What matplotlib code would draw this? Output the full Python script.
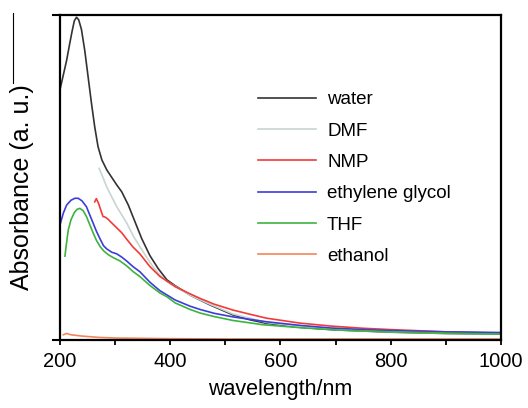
import matplotlib.pyplot as plt
from matplotlib.lines import Line2D
from matplotlib.ticker import MultipleLocator, NullFormatter

plt.rcParams['font.family'] = ['Liberation Sans', 'DejaVu Sans']

# UV-vis absorbance spectra (normalised units) in different solvents
water_nm = [200, 206, 212, 218, 222, 226, 230, 234, 239, 245, 251, 257, 263, 269,
            276, 285, 294, 303, 312, 324, 336, 348, 363, 378, 394, 409, 436, 472,
            514, 545, 575, 635, 700, 800, 900, 1000]
water_abs = [0.77, 0.815, 0.86, 0.915, 0.95, 0.982, 0.993, 0.985, 0.955, 0.89,
             0.81, 0.73, 0.656, 0.595, 0.554, 0.523, 0.50, 0.477, 0.456, 0.415,
             0.364, 0.313, 0.26, 0.22, 0.185, 0.167, 0.138, 0.108, 0.077, 0.062,
             0.051, 0.039, 0.031, 0.024, 0.02, 0.019]

dmf_nm = [271, 278, 285, 294, 303, 312, 321, 333, 345, 357, 369, 381, 394, 409,
          436, 472, 514, 575, 635, 700, 800, 900, 1000]
dmf_abs = [0.528, 0.50, 0.47, 0.44, 0.41, 0.385, 0.36, 0.32, 0.287, 0.255, 0.225,
           0.20, 0.18, 0.165, 0.138, 0.11, 0.08, 0.054, 0.041, 0.032, 0.025, 0.021,
           0.02]

nmp_nm = [263, 266, 270, 274, 278, 282, 287, 291, 297, 303, 312, 321, 333, 345,
          363, 381, 409, 436, 454, 480, 514, 545, 575, 635, 690, 750, 800, 900, 1000]
nmp_abs = [0.425, 0.435, 0.42, 0.40, 0.38, 0.378, 0.372, 0.365, 0.355, 0.345, 0.33,
           0.31, 0.285, 0.265, 0.226, 0.196, 0.164, 0.142, 0.128, 0.11, 0.092,
           0.079, 0.067, 0.052, 0.043, 0.036, 0.032, 0.025, 0.021]

eg_nm = [200, 206, 212, 220, 227, 233, 240, 248, 254, 260, 266, 273, 279, 285, 294,
         303, 312, 321, 333, 345, 363, 381, 409, 436, 454, 480, 514, 575, 635, 690,
         750, 800, 900, 1000]
eg_abs = [0.354, 0.39, 0.415, 0.43, 0.436, 0.436, 0.428, 0.41, 0.385, 0.36, 0.335,
          0.31, 0.29, 0.28, 0.27, 0.265, 0.255, 0.243, 0.225, 0.21, 0.178, 0.152,
          0.123, 0.104, 0.094, 0.082, 0.071, 0.056, 0.045, 0.037, 0.032, 0.029,
          0.025, 0.023]

thf_nm = [209, 212, 215, 220, 226, 231, 236, 242, 248, 254, 260, 266, 273, 280, 288,
          297, 309, 321, 333, 345, 363, 381, 394, 409, 436, 454, 480, 514, 568, 635,
          700, 800, 900, 1000]
thf_abs = [0.258, 0.30, 0.338, 0.37, 0.392, 0.402, 0.405, 0.398, 0.38, 0.355, 0.33,
           0.307, 0.287, 0.273, 0.262, 0.253, 0.243, 0.228, 0.21, 0.195, 0.168,
           0.145, 0.133, 0.114, 0.094, 0.083, 0.072, 0.06, 0.047, 0.038, 0.031,
           0.025, 0.021, 0.018]

ethanol_nm = [206, 212, 220, 240, 270, 300, 350, 400, 500, 700, 1000]
ethanol_abs = [0.016, 0.02, 0.016, 0.012, 0.008, 0.006, 0.005, 0.004, 0.003, 0.003,
               0.003]

series = [
    ("water", water_nm, water_abs, "#333333"),
    ("DMF", dmf_nm, dmf_abs, "#c6d6d1"),
    ("NMP", nmp_nm, nmp_abs, "#f23a3a"),
    ("ethylene glycol", eg_nm, eg_abs, "#3c3cdc"),
    ("THF", thf_nm, thf_abs, "#3db33d"),
    ("ethanol", ethanol_nm, ethanol_abs, "#f4845a"),
]

fig = plt.figure(figsize=(5.28, 4.08), dpi=100)
ax = fig.add_axes([0.1136, 0.1667, 0.8352, 0.7966])

for name, x, y, c in series:
    ax.plot(x, y, color=c, lw=1.2, label=name)

ax.set_xlim(200, 1000)
ax.set_ylim(0, 1.0)

ax.xaxis.set_major_locator(MultipleLocator(200))
ax.xaxis.set_minor_locator(MultipleLocator(100))
ax.tick_params(axis='x', which='both', direction='out', length=3.5, width=1.3,
               labelsize=14.5, pad=5)
ax.set_yticks([0, 1.0])
ax.yaxis.set_major_formatter(NullFormatter())
ax.tick_params(axis='y', direction='out', length=6, width=1.5)

for s in ax.spines.values():
    s.set_linewidth(1.6)

ax.set_xlabel("wavelength/nm", fontsize=15.5, labelpad=6)
ax.set_ylabel("Absorbance (a. u.)", fontsize=18)
ax.yaxis.set_label_coords(-0.06, 0.47)

ax.legend(loc='upper left', bbox_to_anchor=(0.41, 0.818), frameon=False,
          fontsize=13.5, handlelength=3.1, handletextpad=0.6, labelspacing=0.76)

# thin vertical rule at the far left edge
fig.add_artist(Line2D([13 / 528, 13 / 528], [1 - 13 / 408, 1 - 83 / 408],
                      color='black', lw=0.8))

fig.savefig("out.png", dpi=100)
